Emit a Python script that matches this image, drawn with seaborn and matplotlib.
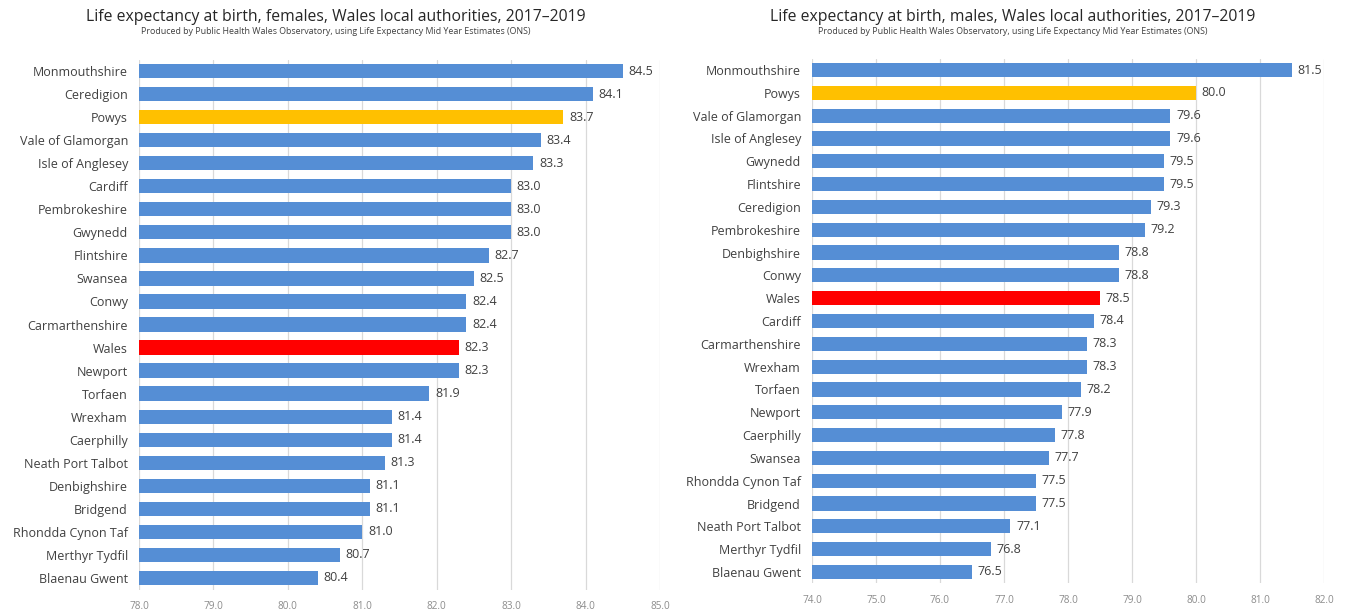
import matplotlib
matplotlib.use("Agg")
import matplotlib.pyplot as plt
import seaborn as sns
import pandas as pd

# ---- data ----
fem_areas = ["Monmouthshire", "Ceredigion", "Powys", "Vale of Glamorgan", "Isle of Anglesey",
             "Cardiff", "Pembrokeshire", "Gwynedd", "Flintshire", "Swansea", "Conwy",
             "Carmarthenshire", "Wales", "Newport", "Torfaen", "Wrexham", "Caerphilly",
             "Neath Port Talbot", "Denbighshire", "Bridgend", "Rhondda Cynon Taf",
             "Merthyr Tydfil", "Blaenau Gwent"]
fem_values = [84.5, 84.1, 83.7, 83.4, 83.3, 83.0, 83.0, 83.0, 82.7, 82.5, 82.4, 82.4, 82.3,
              82.3, 81.9, 81.4, 81.4, 81.3, 81.1, 81.1, 81.0, 80.7, 80.4]

male_areas = ["Monmouthshire", "Powys", "Vale of Glamorgan", "Isle of Anglesey", "Gwynedd",
              "Flintshire", "Ceredigion", "Pembrokeshire", "Denbighshire", "Conwy", "Wales",
              "Cardiff", "Carmarthenshire", "Wrexham", "Torfaen", "Newport", "Caerphilly",
              "Swansea", "Rhondda Cynon Taf", "Bridgend", "Neath Port Talbot",
              "Merthyr Tydfil", "Blaenau Gwent"]
male_values = [81.5, 80.0, 79.6, 79.6, 79.5, 79.5, 79.3, 79.2, 78.8, 78.8, 78.5, 78.4, 78.3,
               78.3, 78.2, 77.9, 77.8, 77.7, 77.5, 77.5, 77.1, 76.8, 76.5]

fem_ticks = [78.0, 79.0, 80.0, 81.0, 82.0, 83.0, 84.0, 85.0]
male_ticks = [74.0, 75.0, 76.0, 77.0, 78.0, 79.0, 80.0, 81.0, 82.0]

titles = ["Life expectancy at birth, females, Wales local authorities, 2017\u20132019",
          "Life expectancy at birth, males, Wales local authorities, 2017\u20132019"]
subtitle = "Produced by Public Health Wales Observatory, using Life Expectancy Mid Year Estimates (ONS)"

BLUE = "#558ED5"
YELLOW = "#FFC000"
RED = "#FF0000"

sns.set_theme(style="white")
plt.rcParams["font.family"] = ["Open Sans", "DejaVu Sans"]

fig = plt.figure(figsize=(13.47, 6.11), dpi=100)
W, H = 1347, 611

def make(ax_rect, areas, values, ticks, title, title_cx):
    ax = fig.add_axes(ax_rect)
    df = pd.DataFrame({"area": areas, "value": values})
    pal = {a: (YELLOW if a == "Powys" else RED if a == "Wales" else BLUE) for a in areas}
    ax.set_axisbelow(True)
    for t in ticks:
        ax.axvline(t, color="#D9D9D9", lw=0.9, zorder=0)
    sns.barplot(data=df, x="value", y="area", hue="area", palette=pal, legend=False,
                orient="h", width=0.62, ax=ax, order=areas, hue_order=areas,
                edgecolor="none", saturation=1)
    ax.set_xlim(ticks[0], ticks[-1])
    ax.set_ylim(len(areas) - 0.5, -0.5)
    ax.set_xticks(ticks)
    ax.set_xticklabels([f"{t:.1f}" for t in ticks], fontsize=7.2, color="#8C8C8C")
    ax.tick_params(axis="x", length=0, pad=8)
    ax.tick_params(axis="y", length=0, pad=8, labelsize=9, labelcolor="#404040")
    ax.set_xlabel("")
    ax.set_ylabel("")
    for s in ax.spines.values():
        s.set_visible(False)
    for i, v in enumerate(values):
        ax.text(v + (ticks[-1] - ticks[0]) * 0.011, i, f"{v:.1f}", va="center", ha="left",
                fontsize=9, color="#404040")
    fig.text(title_cx / W, 1 - 17 / H, title, ha="center", va="center", fontsize=11.3,
             color="#262626")
    fig.text(title_cx / W, 1 - 32 / H, subtitle, ha="center", va="center", fontsize=6.4,
             color="#404040")
    return ax

make([139 / W, 1 - 589.5 / H, (660 - 139) / W, 530 / H], fem_areas, fem_values, fem_ticks,
     titles[0], 336)
make([812 / W, 1 - 583.4 / H, (1324 - 812) / W, 524.8 / H], male_areas, male_values,
     male_ticks, titles[1], 1013)

fig.savefig("out.png", dpi=100)
